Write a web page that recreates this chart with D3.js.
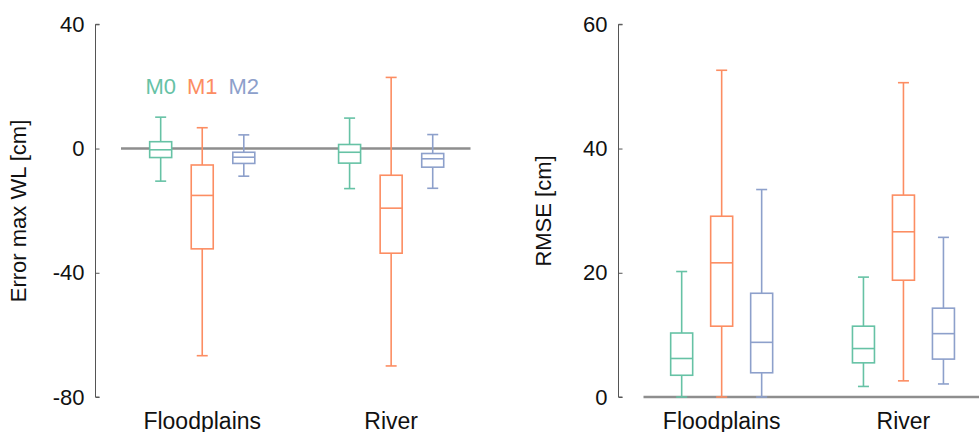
<!DOCTYPE html>
<html>
<head>
<meta charset="utf-8">
<script src="https://cdn.jsdelivr.net/npm/d3@7"></script>
<style>
  body { margin: 0; background: #fff; }
  svg { display: block; font-family: "Liberation Sans", Arial, sans-serif; }
</style>
</head>
<body>
<svg id="chart" width="979" height="432"></svg>
<script>
// DATA
const groups = ['Floodplains', 'River']
const models = ['M0', 'M1', 'M2']
const colors = ['#66c2a5', '#fc8d62', '#8da0cb']

// each entry: [whisker low, Q1, median, Q3, whisker high], one per group
const errM0 = [[-10.5, -2.9, -0.4, 2.2, 10.1], [-12.9, -4.7, -1.2, 1.3, 9.8]]
const errM1 = [[-66.7, -32.3, -15.1, -5.3, 6.7], [-70.0, -33.7, -19.2, -8.6, 22.9]]
const errM2 = [[-8.9, -4.8, -2.8, -1.2, 4.4], [-12.8, -6.0, -3.3, -1.6, 4.5]]

const rmseM0 = [[0, 3.5, 6.2, 10.3, 20.2], [1.7, 5.5, 7.8, 11.4, 19.3]]
const rmseM1 = [[0, 11.4, 21.6, 29.1, 52.6], [2.6, 18.8, 26.6, 32.5, 50.6]]
const rmseM2 = [[0, 3.9, 8.8, 16.7, 33.4], [2.1, 6.1, 10.2, 14.3, 25.7]]

const errTicks = [-80, -40, 0, 40]
const rmseTicks = [0, 20, 40, 60]

// LAYOUT
const svg = d3.select('#chart')
const fontSize = 22
const boxW = 22
const capW = 11
const offset = 0.22

function draw_panel(cfg) {
  const x = d3.scaleLinear().domain([0.57, 2.42]).range(cfg.xRange)
  const y = d3.scaleLinear().domain(cfg.yDomain).range([397, 24.3])
  const g = svg.append('g')

  // reference line at 0
  g.append('line')
    .attr('x1', x(0.57)).attr('x2', x(2.42))
    .attr('y1', y(0)).attr('y2', y(0))
    .attr('stroke', '#8e8e8e').attr('stroke-width', 2.5)

  // y axis (ticks inside, like matlab)
  const axis = d3.axisRight(y).tickValues(cfg.ticks).tickSize(4).tickFormat('')
  const ax = g.append('g').attr('transform', `translate(${cfg.axisX},0)`).call(axis)
  ax.selectAll('path, line').attr('stroke', '#555').attr('stroke-width', 1)
  ax.select('.domain').attr('d', `M4,${y.range()[1]}H0V${y.range()[0]}H4`)

  g.selectAll('text.tick')
    .data(cfg.ticks)
    .join('text')
      .attr('class', 'tick')
      .attr('x', cfg.axisX - 11)
      .attr('y', d => y(d))
      .attr('dy', '0.35em')
      .attr('text-anchor', 'end')
      .style('font-size', fontSize + 'px')
      .attr('fill', '#111')
      .text(d => d)

  // y label
  g.append('text')
    .attr('transform', `translate(${cfg.labelX},211) rotate(-90)`)
    .attr('text-anchor', 'middle')
    .style('font-size', fontSize + 'px')
    .attr('fill', '#111')
    .text(cfg.label)

  // x labels
  g.selectAll('text.grp')
    .data(groups)
    .join('text')
      .attr('class', 'grp')
      .attr('x', (d, i) => x(i + 1))
      .attr('y', 429)
      .attr('text-anchor', 'middle')
      .style('font-size', '23px')
      .attr('fill', '#111')
      .text(d => d)

  // boxes
  cfg.series.forEach((series, m) => {
    series.forEach((s, i) => {
      const cx = x(i + 1 + (m - 1) * offset)
      const [lo, q1, med, q3, hi] = s
      const b = g.append('g')
        .attr('stroke', colors[m]).attr('stroke-width', 1.6).attr('fill', 'none')
      b.append('line').attr('x1', cx).attr('x2', cx).attr('y1', y(hi)).attr('y2', y(q3))
      b.append('line').attr('x1', cx).attr('x2', cx).attr('y1', y(q1)).attr('y2', y(lo))
      b.append('line').attr('x1', cx - capW / 2).attr('x2', cx + capW / 2).attr('y1', y(hi)).attr('y2', y(hi))
      b.append('line').attr('x1', cx - capW / 2).attr('x2', cx + capW / 2).attr('y1', y(lo)).attr('y2', y(lo))
      b.append('rect')
        .attr('x', cx - boxW / 2).attr('width', boxW)
        .attr('y', y(q3)).attr('height', y(q1) - y(q3))
        .attr('fill', '#fff')
      b.append('line').attr('x1', cx - boxW / 2).attr('x2', cx + boxW / 2).attr('y1', y(med)).attr('y2', y(med))
    })
  })

  // legend
  if (cfg.legend) {
    g.selectAll('text.leg')
      .data(models)
      .join('text')
        .attr('class', 'leg')
        .attr('x', (d, m) => x(1 + (m - 1) * offset))
        .attr('y', 94)
        .attr('text-anchor', 'middle')
        .style('font-size', fontSize + 'px')
        .attr('fill', (d, m) => colors[m])
        .text(d => d)
  }
}

draw_panel({
  xRange: [121, 470.5], axisX: 95.5, yDomain: [-80, 40], ticks: errTicks,
  label: 'Error max WL [cm]', labelX: 26, legend: true,
  series: [errM0, errM1, errM2]
})

draw_panel({
  xRange: [643.5, 979.8], axisX: 618.5, yDomain: [0, 60], ticks: rmseTicks,
  label: 'RMSE [cm]', labelX: 551, legend: false,
  series: [rmseM0, rmseM1, rmseM2]
})
</script>
</body>
</html>
